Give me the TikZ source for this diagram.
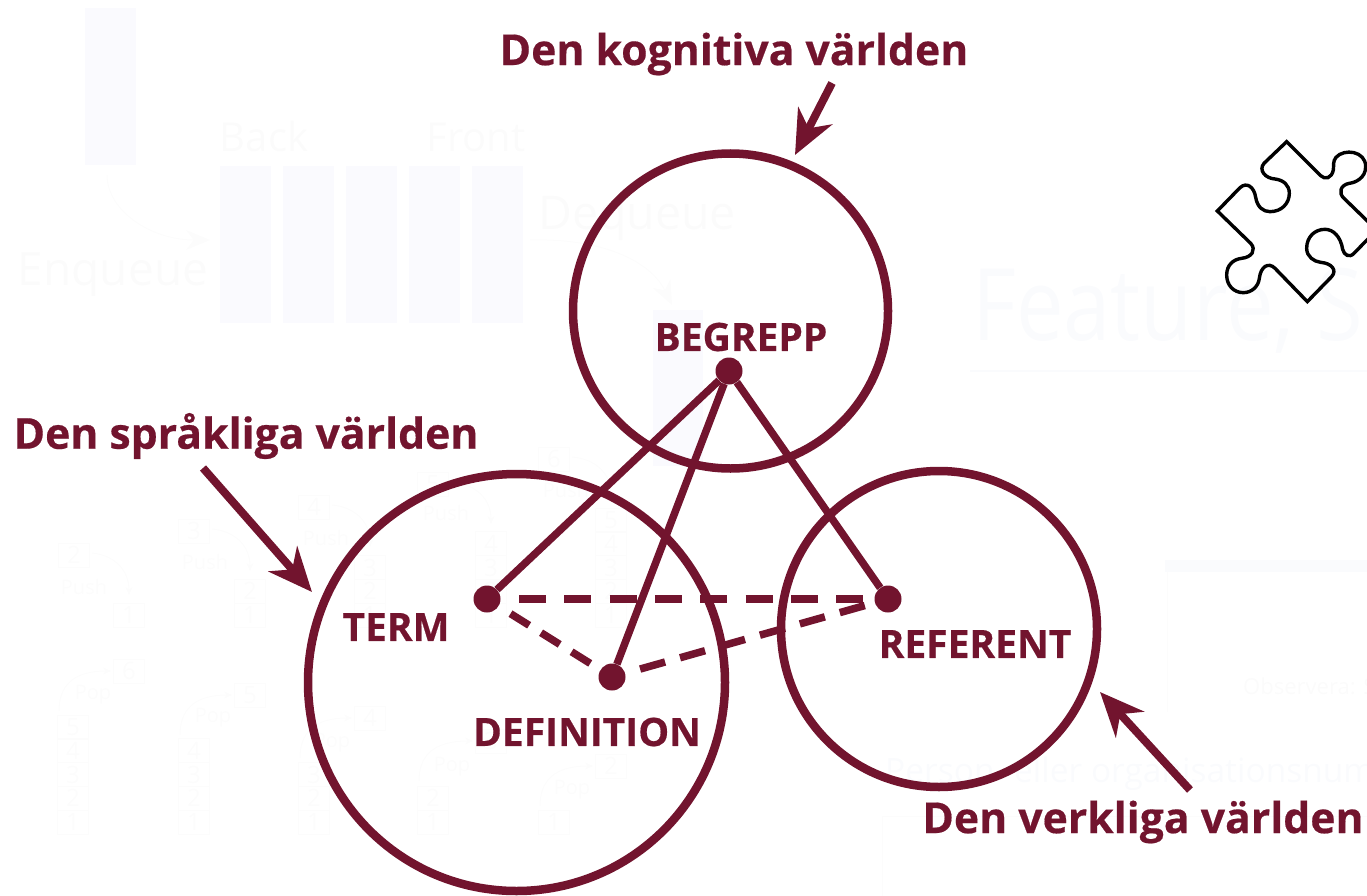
\documentclass[tikz,border=0pt]{standalone}
\usepackage{fontspec}
\setmainfont{Open Sans}
\newfontfamily\heavy{Open Sans}[BoldFeatures={FakeBold=0.4}]
\usetikzlibrary{arrows.meta}
\definecolor{wine}{HTML}{72142E}
\definecolor{ghostbar}{HTML}{FAFAFE}
\definecolor{ghosttext}{HTML}{FBFBFB}
\definecolor{ghostline}{HTML}{FCFCFC}
\definecolor{ghostblue}{HTML}{FAFBFD}
\newcommand{\pxfont}[1]{\fontsize{#1}{#1}\selectfont}
\tikzset{
  x=1pt,y=-1pt,
  world/.style={draw=wine,line width=8.5pt,circle,inner sep=0pt,fill=none},
  dot/.style={fill=wine,circle,inner sep=0pt,minimum size=27pt},
  title/.style={text=wine,font=\pxfont{42.7}\heavy\bfseries,inner sep=0pt},
  term/.style={text=wine,font=\pxfont{39}\heavy\bfseries,inner sep=0pt},
  link/.style={draw=wine,line width=7.5pt},
  dashlink/.style={draw=wine,line width=7.5pt,dash pattern=on 27pt off 18.3pt,dash phase=27pt},
  dashshort/.style={draw=wine,line width=7.5pt,dash pattern=on 22pt off 14pt,dash phase=22pt},
  dashmid/.style={draw=wine,line width=7.5pt,dash pattern=on 26pt off 15.5pt,dash phase=26pt},
  pointer/.style={draw=wine,line width=8pt,-{Stealth[length=44pt,width=38pt,inset=14pt]}},
  bar/.style={fill=ghostbar,draw=none},
  ghostlabel/.style={text=ghosttext,inner sep=0pt},
  cell/.style={draw=ghostline,line width=1pt,minimum width=31pt,minimum height=24pt,inner sep=0pt,text=ghostline,font=\pxfont{24}},
  opword/.style={text=ghostline,font=\pxfont{20},inner sep=0pt},
  ghostarrow/.style={draw=ghostline,line width=1pt,-{Stealth[length=8pt,width=7pt]}},
}
\begin{document}
\begin{tikzpicture}
\useasboundingbox (0,0) rectangle (1367,896);
\clip (0,0) rectangle (1367,896);
% faint background
\fill[bar] (85,8) rectangle (136,165);
\foreach \xa in {220,283,346,409,472}{\fill[bar] (\xa,166) rectangle ++(51,157);}
\fill[bar] (653,310) rectangle (703,466);
\node[ghostlabel,font=\pxfont{40}] (back) at (264,137) {Back};
\node[ghostlabel,font=\pxfont{40}] (front) at (476,137) {Front};
\node[ghostlabel,font=\pxfont{46}] (enq) at (113,275) {Enqueue};
\node[ghostlabel,font=\pxfont{46.5}] (deq) at (637,218) {Dequeue};
\coordinate (ea) at (107,175); \coordinate (eb) at (210,240);
\coordinate (da) at (530,240); \coordinate (db) at (672,305);
\draw[draw=ghostline,line width=1pt,-{Stealth[length=24pt,width=20pt]}] (ea) .. controls (107,210) and (150,240) .. (eb);
\draw[draw=ghostline,line width=1pt,-{Stealth[length=24pt,width=20pt]}] (da) .. controls (600,238) and (650,260) .. (db);
% push
\foreach \n/\bx/\by/\sx/\lx/\ly in {2/74/555/129/84/587,3/194/531/250/205/562,4/314/507/370/326/538,5/433/484/491/446/513,6/554/459/611/566/490}{
  \node[cell] (p\n) at (\bx,\by) {\n};
  \node[opword] (pw\n) at (\lx,\ly) {Push};
  \coordinate (pa\n) at (\bx+18,\by-2);
  \coordinate (pb\n) at (\sx,\by+40);
  \draw[ghostarrow] (pa\n) .. controls (\sx-15,\by) and (\sx,\by+15) .. (pb\n);
  \pgfmathtruncatemacro{\top}{\n-1}
  \foreach \k in {1,...,\top}{\node[cell] at (\sx,{615-(\k-1)*23.7}) {\k};}
}
% pop
\foreach \n/\bx/\by/\sx/\lx/\ly in {6/129/671/73/93/695,5/250/695/194/213/718,4/370/718/314/332/743,3/491/741/433/452/767,2/611/766/554/572/790}{
  \node[cell] (q\n) at (\bx,\by) {\n};
  \node[opword] (qw\n) at (\lx,\ly) {Pop};
  \coordinate (qa\n) at (\sx-14,\by+40);
  \coordinate (qb\n) at (\bx-18,\by);
  \draw[ghostarrow] (qa\n) .. controls (\sx-14,\by+15) and (\sx,\by) .. (qb\n);
  \pgfmathtruncatemacro{\top}{\n-1}
  \foreach \k in {1,...,\top}{\node[cell] at (\sx,{822-(\k-1)*23.7}) {\k};}
}
\node[anchor=base west,text=ghostblue,font=\pxfont{100},inner sep=0pt,xscale=0.85] (feat) at (972,340) {Feature, Se};
\coordinate (fa) at (970,371); \coordinate (fb) at (1367,371);
\draw[ghostblue,line width=2pt] (fa) -- (fb);
\fill[ghostblue] (1165,560) rectangle (1367,572);
\draw[ghostline,line width=1pt] (1167,572) -- (1167,712);
\node[anchor=base west,text=ghosttext,font=\pxfont{22},inner sep=0pt] (obs) at (1243,694) {Observera: Se};
\node[anchor=base west,text=ghostblue,font=\pxfont{33.5},inner sep=0pt] (pers) at (885,782) {Person- eller organisationsnummer};
\draw[ghostline,line width=1pt] (882,896) -- (882,816) -- (1367,816);
% puzzle
\begin{scope}[shift={(1190,120)},x=0.3333pt,y=-0.3333pt]
\draw[black,line width=3.4pt,line join=miter]
 (290,65) -- (392,167)
 .. controls (405,180) and (425,175) .. (430,150)
 .. controls (432,135) and (428,125) .. (438,112)
 .. controls (462,85) and (527,92) .. (527,140)
 .. controls (527,175) and (495,188) .. (478,190)
 .. controls (450,195) and (445,220) .. (462,235)
 -- (560,330) -- (492,400)
 .. controls (478,415) and (462,405) .. (458,388)
 .. controls (452,350) and (430,328) .. (405,328)
 .. controls (375,328) and (350,350) .. (350,385)
 .. controls (350,410) and (372,425) .. (392,427)
 .. controls (425,430) and (442,450) .. (425,470)
 -- (352,545) -- (255,445)
 .. controls (235,425) and (212,440) .. (208,475)
 .. controls (205,500) and (185,518) .. (160,518)
 .. controls (130,518) and (110,495) .. (110,465)
 .. controls (110,435) and (130,418) .. (155,415)
 .. controls (185,412) and (200,390) .. (182,370)
 -- (82,273) -- (150,203)
 .. controls (170,185) and (192,200) .. (197,232)
 .. controls (202,262) and (220,275) .. (240,275)
 .. controls (275,275) and (298,250) .. (298,220)
 .. controls (298,195) and (280,180) .. (255,177)
 .. controls (225,175) and (205,150) .. (222,130)
 -- cycle;
\end{scope}
% main diagram
\node[world,minimum size=315pt] (cog) at (730.5,311) {};
\node[world,minimum size=417pt] (lang) at (516.5,682.5) {};
\node[world,minimum size=316pt] (real) at (939,629) {};
\node[dot] (begrepp) at (729,371) {};
\node[dot] (termd) at (487,599) {};
\node[dot] (defd) at (612,677) {};
\node[dot] (refd) at (888,599) {};
\draw[link] (begrepp) -- (termd);
\draw[link] (begrepp) -- (defd);
\draw[link] (begrepp) -- (refd);
\draw[dashlink] (termd) -- (refd);
\draw[dashshort] (termd) -- (defd);
\draw[dashmid] (defd) -- (refd);
\node[term] (lbegrepp) at (741,337) {BEGREPP};
\node[term] (lterm) at (396,627) {TERM};
\node[term] (ldef) at (587,732) {DEFINITION};
\node[term] (lref) at (975,644) {REFERENT};
\node[title] (tcog) at (734,54) {Den kognitiva världen};
\node[title] (tlang) at (246,436) {Den språkliga världen};
\node[title] (treal) at (1143,822) {Den verkliga världen};
\coordinate (a1) at (832,83); \coordinate (a2) at (795,155);
\coordinate (b1) at (203,468); \coordinate (b2) at (312,592);
\coordinate (c1) at (1190,790); \coordinate (c2) at (1100,692);
\draw[pointer] (a1) -- (a2);
\draw[pointer] (b1) -- (b2);
\draw[pointer] (c1) -- (c2);
\end{tikzpicture}
\end{document}
